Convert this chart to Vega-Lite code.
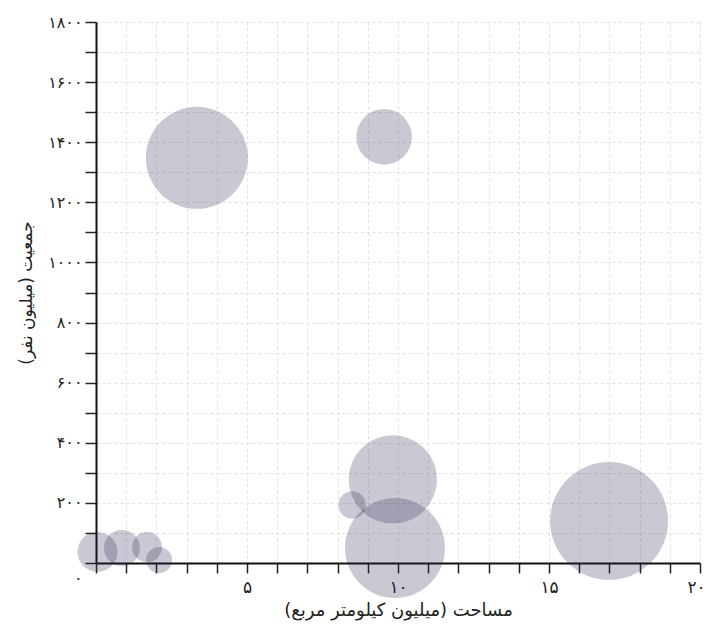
{
  "$schema": "https://vega.github.io/schema/vega-lite/v6.json",
  "width": 604,
  "height": 541,
  "autosize": "none",
  "padding": {"left": 96, "top": 22, "right": 8, "bottom": 69},
  "background": "white",
  "config": {
    "view": {"stroke": null},
    "font": "DejaVu Sans"
  },
  "data": {
    "values": [
      {"country": "India", "area": 3.34, "population": 1348, "z": 104},
      {"country": "China", "area": 9.54, "population": 1418, "z": 31},
      {"country": "USA", "area": 9.83, "population": 278, "z": 78},
      {"country": "Canada", "area": 9.9, "population": 50, "z": 100},
      {"country": "Russia", "area": 16.99, "population": 140, "z": 139},
      {"country": "Brazil", "area": 8.48, "population": 193, "z": 7.5},
      {"country": "A", "area": 0.05, "population": 37, "z": 16},
      {"country": "B", "area": 0.86, "population": 50, "z": 13},
      {"country": "C", "area": 1.69, "population": 53, "z": 9},
      {"country": "D", "area": 2.09, "population": 10, "z": 6.8}
    ]
  },
  "mark": {"type": "circle", "color": "#262650", "opacity": 0.25, "stroke": null},
  "encoding": {
    "x": {
      "field": "area",
      "type": "quantitative",
      "scale": {"domain": [0, 20], "nice": false, "zero": true},
      "axis": {
        "title": "مساحت (میلیون کیلومتر مربع)",
        "titleFont": "DejaVu Sans",
        "titleFontSize": 18,
        "titleFontWeight": "normal",
        "titleColor": "#222",
        "titlePadding": 6,
        "values": [0,1,2,3,4,5,6,7,8,9,10,11,12,13,14,15,16,17,18,19,20],
        "format": "d",
        "labelExpr": "datum.value % 5 === 0 && datum.value > 0 ? replace(replace(replace(replace(datum.label, regexp('0','g'), '۰'), regexp('1','g'), '۱'), regexp('2','g'), '۲'), regexp('5','g'), '۵') : ''",
        "labelFontSize": 17,
        "labelColor": "#222",
        "labelPadding": 6,
        "labelFlush": false,
        "labelOverlap": false,
        "labelOffset": {"condition": {"test": "datum.value === 20", "value": -4}, "value": 0},
        "domainColor": "#111",
        "domainWidth": 2,
        "tickColor": "#222",
        "tickWidth": 1.5,
        "tickSize": 10,
        "grid": true,
        "gridColor": "#e0e0e0",
        "gridDash": [3, 3],
        "gridWidth": 1
      }
    },
    "y": {
      "field": "population",
      "type": "quantitative",
      "scale": {"domain": [0, 1800], "nice": false, "zero": true},
      "axis": {
        "title": "جمعیت (میلیون نفر)",
        "titleFont": "DejaVu Sans",
        "titleFontSize": 17,
        "titleFontWeight": "normal",
        "titleColor": "#222",
        "titlePadding": 12,
        "values": [0,100,200,300,400,500,600,700,800,900,1000,1100,1200,1300,1400,1500,1600,1700,1800],
        "format": "d",
        "labelExpr": "datum.value % 200 === 0 ? replace(replace(replace(replace(replace(replace(replace(datum.label, regexp('0','g'), '۰'), regexp('1','g'), '۱'), regexp('2','g'), '۲'), regexp('4','g'), '۴'), regexp('5','g'), '۵'), regexp('6','g'), '۶'), regexp('8','g'), '۸') : ''",
        "labelFontSize": 16,
        "labelColor": "#222",
        "labelPadding": 3,
        "labelFlush": false,
        "labelOverlap": false,
        "labelOffset": {"condition": {"test": "datum.value === 0", "value": 15}, "value": 0},
        "domainColor": "#111",
        "domainWidth": 2,
        "tickColor": "#222",
        "tickWidth": 1.5,
        "tickSize": 11,
        "grid": true,
        "gridColor": "#e0e0e0",
        "gridDash": [3, 3],
        "gridWidth": 1
      }
    },
    "size": {
      "field": "z",
      "type": "quantitative",
      "scale": {"domain": [0, 140], "range": [0, 14000], "zero": true},
      "legend": null
    }
  }
}
